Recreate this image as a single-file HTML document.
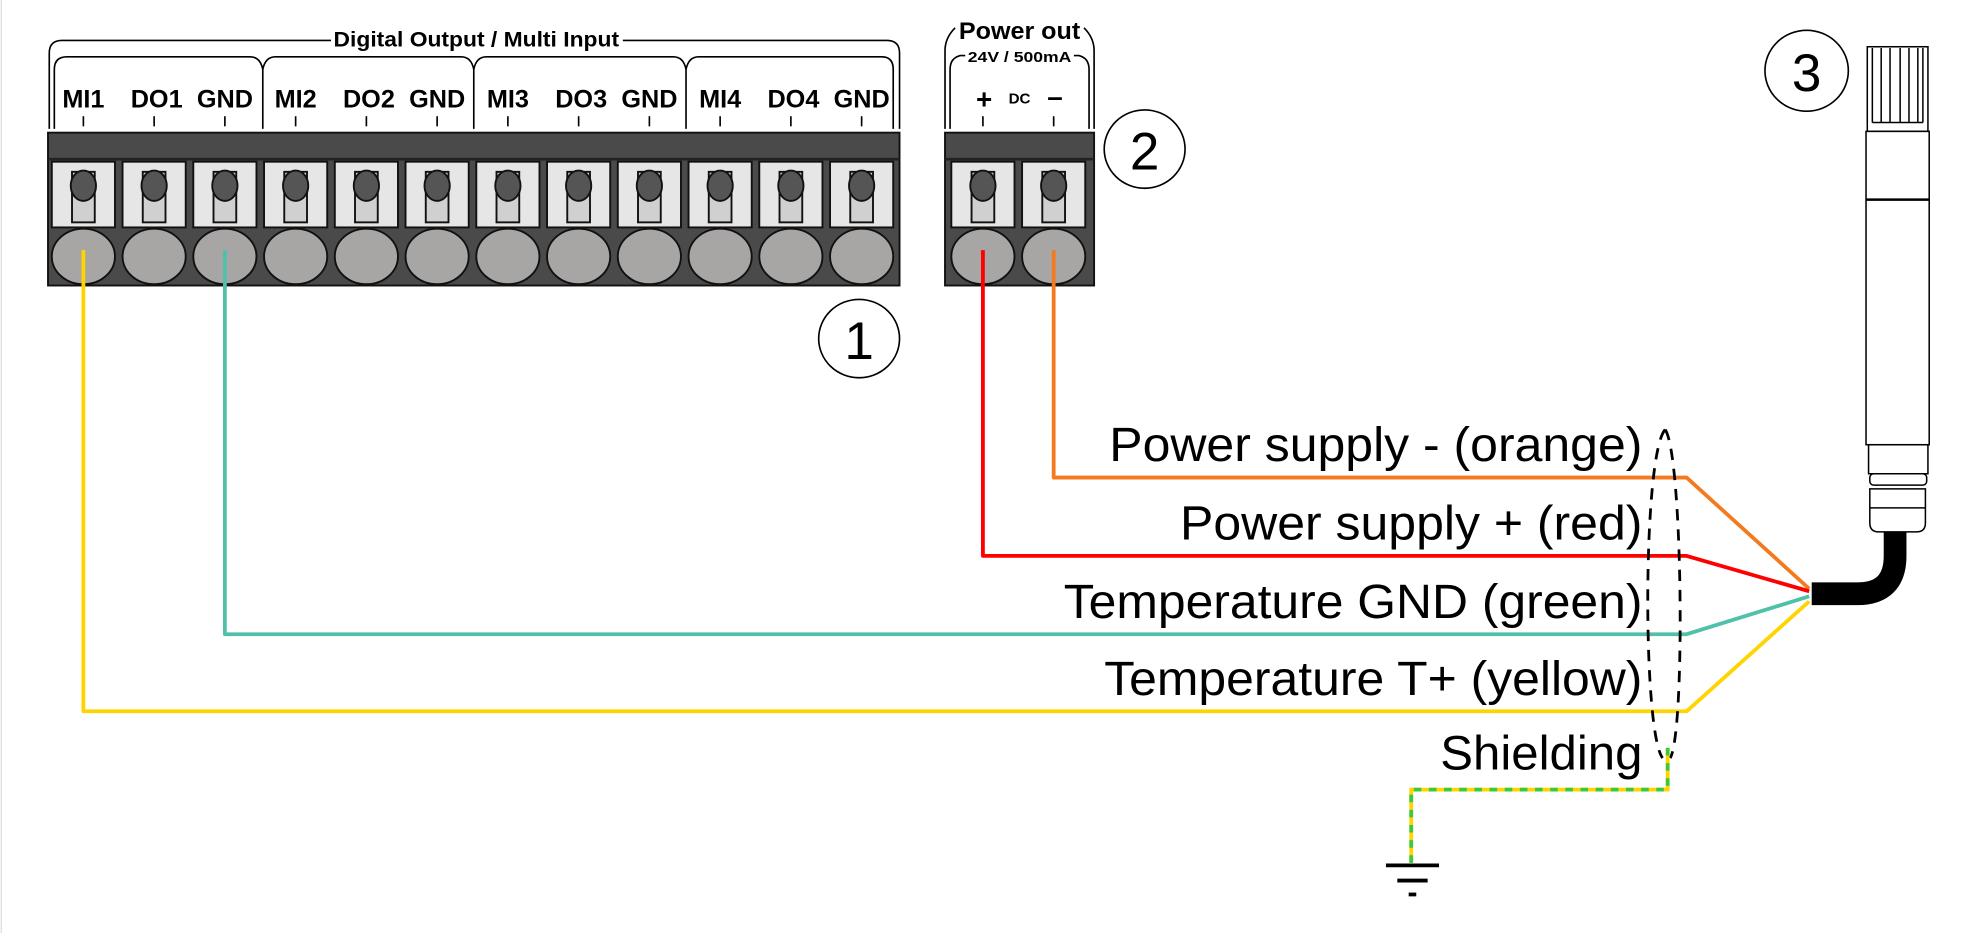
<!DOCTYPE html>
<html><head><meta charset="utf-8"><style>
html,body{margin:0;padding:0;background:#fff;width:1981px;height:933px;overflow:hidden}
svg{display:block}
text{font-family:"Liberation Sans",Arial,sans-serif}
</style></head><body>
<svg width="1981" height="933" viewBox="0 0 1568 738.5" preserveAspectRatio="none" xmlns="http://www.w3.org/2000/svg">
<rect x="0" y="0" width="1568" height="739" fill="#fff"/>
<line x1="1" y1="0" x2="1" y2="739" stroke="#ddd" stroke-width="1"/>
<!-- brackets main -->
<g fill="none" stroke="#000" stroke-width="1.3">
<path d="M39,102 V42 Q39,32 49,32 H262"/>
<path d="M493,32 H702 Q712,32 712,42 V102"/>
<path d="M43,102 V55 Q43,45 53,45 H198 Q206,45 208,55 Q210,45 218,45 H365 Q373,45 375,55 Q377,45 385,45 H533 Q541,45 543,55 Q545,45 553,45 H698 Q707,45 707,55 V102"/>
<line x1="208" y1="55" x2="208" y2="102"/><line x1="375" y1="55" x2="375" y2="102"/><line x1="543" y1="55" x2="543" y2="102"/>
<path d="M748,102 V40 Q748,30 756,22"/><path d="M866,102 V40 Q866,30 858,22"/>
<path d="M752,102 V55 Q752,46 760,44 H764"/><path d="M862,102 V55 Q862,46 854,44 H850"/>
</g>
<text x="377" y="37" font-size="17" font-weight="bold" text-anchor="middle" textLength="226" lengthAdjust="spacingAndGlyphs">Digital Output / Multi Input</text>
<text x="807" y="31" font-size="19" font-weight="bold" text-anchor="middle" textLength="96" lengthAdjust="spacingAndGlyphs">Power out</text>
<text x="807" y="49" font-size="12" font-weight="bold" text-anchor="middle" textLength="82" lengthAdjust="spacingAndGlyphs">24V / 500mA</text>
<g font-size="20" font-weight="bold" text-anchor="middle">
<text x="66" y="85">MI1</text><text x="124" y="85">DO1</text><text x="178" y="85">GND</text>
<text x="234" y="85">MI2</text><text x="292" y="85">DO2</text><text x="346" y="85">GND</text>
<text x="402" y="85">MI3</text><text x="460" y="85">DO3</text><text x="514" y="85">GND</text>
<text x="570" y="85">MI4</text><text x="628" y="85">DO4</text><text x="682" y="85">GND</text>
<text x="779" y="86" font-size="22">+</text><text x="807" y="82" font-size="12">DC</text><text x="835" y="84" font-size="22">–</text>
</g>
<g stroke="#000" stroke-width="1.3">
<line x1="66" y1="92" x2="66" y2="100"/><line x1="122" y1="92" x2="122" y2="100"/><line x1="178" y1="92" x2="178" y2="100"/>
<line x1="234" y1="92" x2="234" y2="100"/><line x1="290" y1="92" x2="290" y2="100"/><line x1="346" y1="92" x2="346" y2="100"/>
<line x1="402" y1="92" x2="402" y2="100"/><line x1="458" y1="92" x2="458" y2="100"/><line x1="514" y1="92" x2="514" y2="100"/>
<line x1="570" y1="92" x2="570" y2="100"/><line x1="626" y1="92" x2="626" y2="100"/><line x1="682" y1="92" x2="682" y2="100"/>
<line x1="778" y1="92" x2="778" y2="100"/><line x1="834" y1="92" x2="834" y2="100"/>
</g>
<!-- blocks -->
<rect x="38" y="105" width="674" height="121" fill="#4a4a4a" stroke="#111" stroke-width="1.5"/>
<rect x="748" y="105" width="118" height="121" fill="#4a4a4a" stroke="#111" stroke-width="1.5"/>
<line x1="38" y1="126" x2="712" y2="126" stroke="#222" stroke-width="2"/>
<line x1="748" y1="126" x2="866" y2="126" stroke="#222" stroke-width="2"/>
<g id="t">
</g>
<g stroke="#111" stroke-width="1.5">
<!-- slots -->
<g fill="#e6e6e6">
<rect x="41" y="128" width="50" height="52"/><rect x="97" y="128" width="50" height="52"/><rect x="153" y="128" width="50" height="52"/>
<rect x="209" y="128" width="50" height="52"/><rect x="265" y="128" width="50" height="52"/><rect x="321" y="128" width="50" height="52"/>
<rect x="377" y="128" width="50" height="52"/><rect x="433" y="128" width="50" height="52"/><rect x="489" y="128" width="50" height="52"/>
<rect x="545" y="128" width="50" height="52"/><rect x="601" y="128" width="50" height="52"/><rect x="657" y="128" width="50" height="52"/>
<rect x="753" y="128" width="50" height="52"/><rect x="809" y="128" width="50" height="52"/>
</g>
<g fill="#d0d0d0">
<rect x="57" y="136" width="18" height="40"/><rect x="113" y="136" width="18" height="40"/><rect x="169" y="136" width="18" height="40"/>
<rect x="225" y="136" width="18" height="40"/><rect x="281" y="136" width="18" height="40"/><rect x="337" y="136" width="18" height="40"/>
<rect x="393" y="136" width="18" height="40"/><rect x="449" y="136" width="18" height="40"/><rect x="505" y="136" width="18" height="40"/>
<rect x="561" y="136" width="18" height="40"/><rect x="617" y="136" width="18" height="40"/><rect x="673" y="136" width="18" height="40"/>
<rect x="769" y="136" width="18" height="40"/><rect x="825" y="136" width="18" height="40"/>
</g>
<g fill="#555">
<ellipse cx="66" cy="147" rx="10" ry="12"/><ellipse cx="122" cy="147" rx="10" ry="12"/><ellipse cx="178" cy="147" rx="10" ry="12"/>
<ellipse cx="234" cy="147" rx="10" ry="12"/><ellipse cx="290" cy="147" rx="10" ry="12"/><ellipse cx="346" cy="147" rx="10" ry="12"/>
<ellipse cx="402" cy="147" rx="10" ry="12"/><ellipse cx="458" cy="147" rx="10" ry="12"/><ellipse cx="514" cy="147" rx="10" ry="12"/>
<ellipse cx="570" cy="147" rx="10" ry="12"/><ellipse cx="626" cy="147" rx="10" ry="12"/><ellipse cx="682" cy="147" rx="10" ry="12"/>
<ellipse cx="778" cy="147" rx="10" ry="12"/><ellipse cx="834" cy="147" rx="10" ry="12"/>
</g>
<g fill="#a8a5a5">
<ellipse cx="66" cy="203" rx="25" ry="22"/><ellipse cx="122" cy="203" rx="25" ry="22"/><ellipse cx="178" cy="203" rx="25" ry="22"/>
<ellipse cx="234" cy="203" rx="25" ry="22"/><ellipse cx="290" cy="203" rx="25" ry="22"/><ellipse cx="346" cy="203" rx="25" ry="22"/>
<ellipse cx="402" cy="203" rx="25" ry="22"/><ellipse cx="458" cy="203" rx="25" ry="22"/><ellipse cx="514" cy="203" rx="25" ry="22"/>
<ellipse cx="570" cy="203" rx="25" ry="22"/><ellipse cx="626" cy="203" rx="25" ry="22"/><ellipse cx="682" cy="203" rx="25" ry="22"/>
<ellipse cx="778" cy="203" rx="25" ry="22"/><ellipse cx="834" cy="203" rx="25" ry="22"/>
</g>
</g>
<!-- numbered circles -->
<g fill="#fff" stroke="#000" stroke-width="1.3">
<ellipse cx="680" cy="268" rx="32" ry="31"/><ellipse cx="906" cy="118" rx="32" ry="31"/><ellipse cx="1430" cy="56" rx="33" ry="32"/>
</g>
<g font-size="42" text-anchor="middle">
<text x="680" y="284">1</text><text x="906" y="134">2</text><text x="1430" y="72">3</text>
</g>
<!-- wires -->
<g fill="none" stroke-width="3" stroke-linejoin="round">
<polyline points="834,198 834,378 1335,378 1432,466" stroke="#f47a20"/>
<polyline points="778,198 778,440 1335,440 1432,468" stroke="#f00"/>
<polyline points="178,198 178,502 1335,502 1432,472" stroke="#4fc1a8"/>
<polyline points="66,198 66,563 1335,563 1432,476" stroke="#ffd400"/>
</g>
<!-- sensor -->
<g fill="#fff" stroke="#000" stroke-width="1.2">
<rect x="1478" y="37" width="48" height="67"/>
<line x1="1482" y1="38" x2="1482" y2="97"/><line x1="1489" y1="38" x2="1489" y2="97"/><line x1="1496" y1="38" x2="1496" y2="97"/>
<line x1="1504" y1="38" x2="1504" y2="97"/><line x1="1511" y1="38" x2="1511" y2="97"/><line x1="1518" y1="38" x2="1518" y2="97"/><line x1="1522" y1="38" x2="1522" y2="97"/>
<line x1="1482" y1="97" x2="1522" y2="97"/>
<rect x="1477" y="104" width="50" height="248"/>
<line x1="1477" y1="158" x2="1527" y2="158" stroke-width="2"/>
<path d="M1479,352 H1526 V375 H1479 Z"/>
<rect x="1480" y="375" width="45" height="9" rx="3"/>
<path d="M1480,387 H1524 V414 Q1524,421 1517,421 H1487 Q1480,421 1480,414 Z"/>
<line x1="1480" y1="402" x2="1524" y2="402"/>
</g>
<path d="M1500,421 V440 Q1500,470 1470,470 H1434" fill="none" stroke="#000" stroke-width="18"/>
<!-- shield ellipse -->
<path d="M1318,340 C1300,360 1300,580 1316,600 M1318,340 C1332,360 1334,580 1322,600" fill="none" stroke="#000" stroke-width="2.2" stroke-dasharray="9,7"/>
<!-- shield wire -->
<polyline points="1320,592 1320,625 1117,625 1117,683" fill="none" stroke="#ffd400" stroke-width="3"/>
<polyline points="1320,592 1320,625 1117,625 1117,683" fill="none" stroke="#3cc83c" stroke-width="3" stroke-dasharray="6,6"/>
<g stroke="#000" stroke-width="3">
<line x1="1097" y1="685" x2="1139" y2="685"/><line x1="1106" y1="697" x2="1130" y2="697"/><line x1="1115" y1="708" x2="1121" y2="708"/>
</g>
<!-- labels -->
<g font-size="38" text-anchor="end">
<text x="1300" y="365" textLength="422" lengthAdjust="spacingAndGlyphs">Power supply - (orange)</text>
<text x="1300" y="427" textLength="366" lengthAdjust="spacingAndGlyphs">Power supply + (red)</text>
<text x="1300" y="489" textLength="458" lengthAdjust="spacingAndGlyphs">Temperature GND (green)</text>
<text x="1300" y="550" textLength="426" lengthAdjust="spacingAndGlyphs">Temperature T+ (yellow)</text>
<text x="1300" y="609" textLength="160" lengthAdjust="spacingAndGlyphs">Shielding</text>
</g>
</svg>
</body></html>
